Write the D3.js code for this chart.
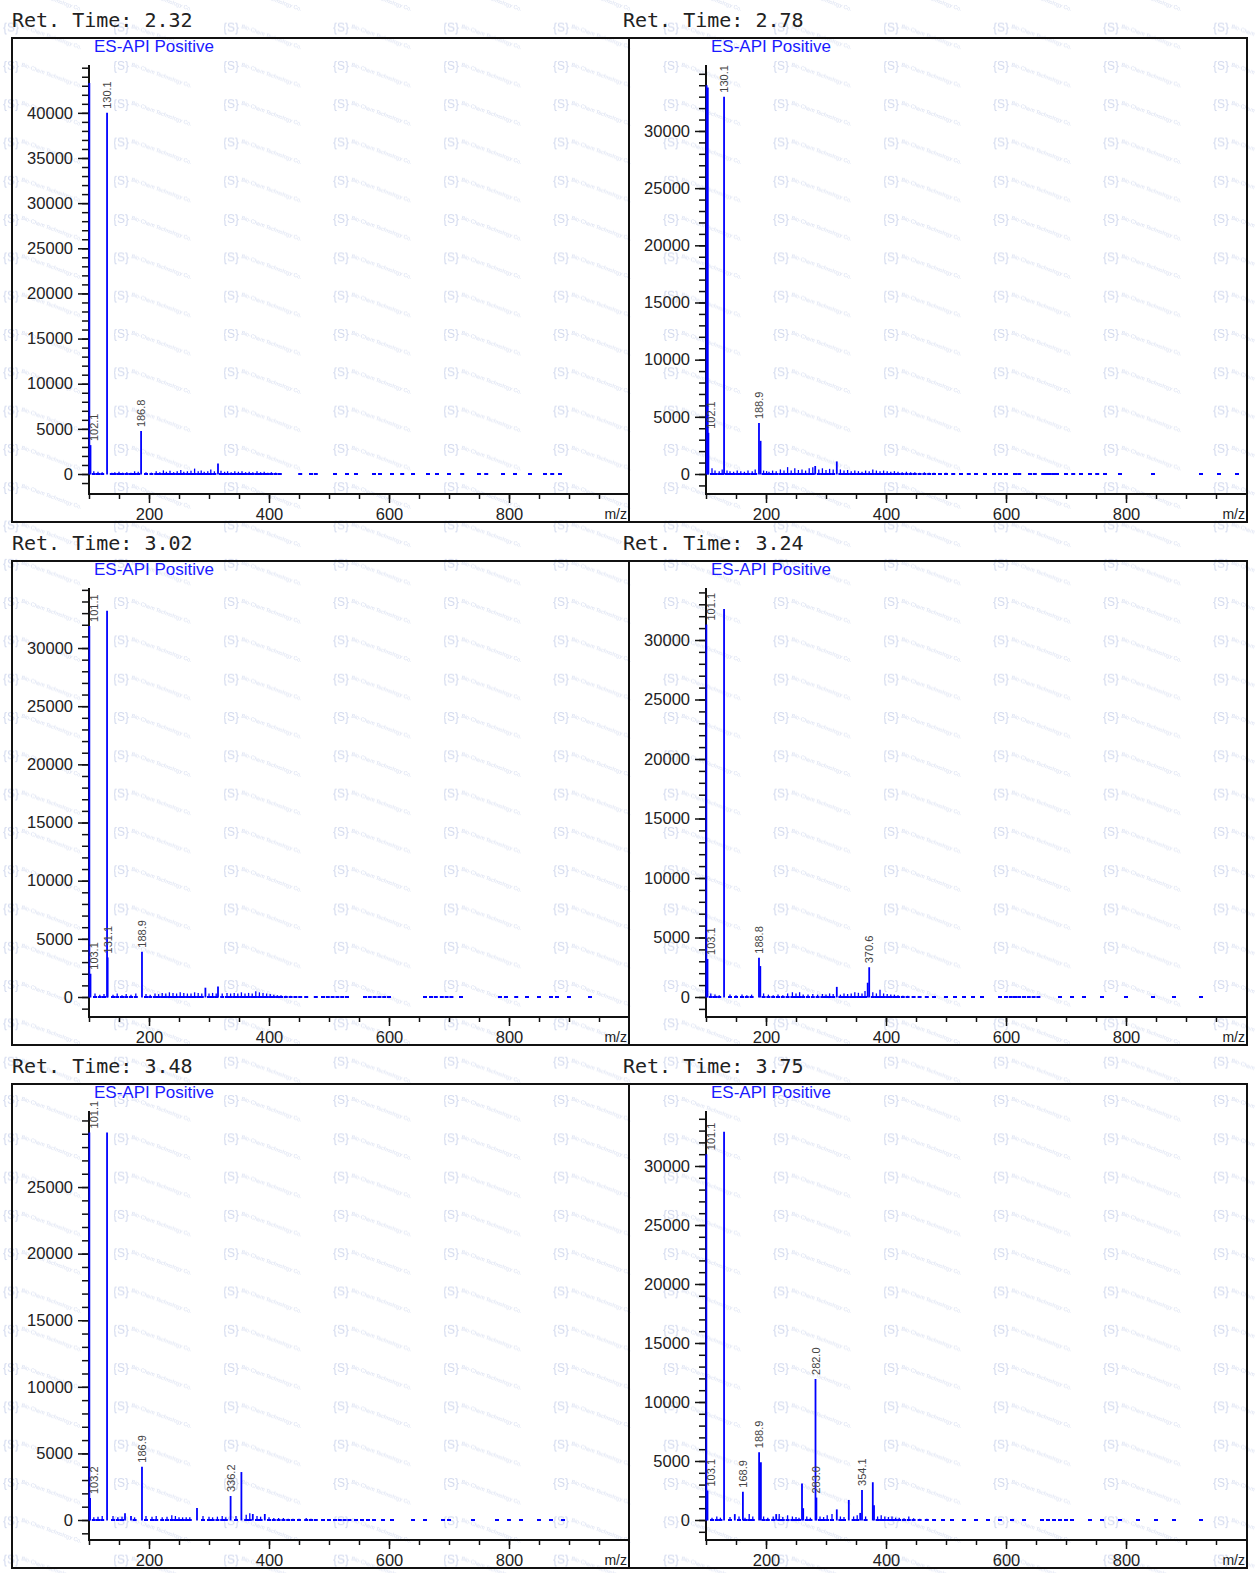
<!DOCTYPE html>
<html>
<head>
<meta charset="utf-8">
<script src="https://cdn.jsdelivr.net/npm/d3@7"></script>
<style>
  body { margin: 0; background: #fff; }
  svg { display: block; }
</style>
</head>
<body>
<div id="chart"></div>
<script>
const W = 1256, H = 1573;

// one entry per panel, row by row
const retTimes = ["2.32", "2.78", "3.02", "3.24", "3.48", "3.75"];
// value at the top end of each intensity axis
const yTops = [45300, 35770, 35160, 34370, 30710, 34660];
const mzDomain = [100, 1000];
const xTickLabels = [200, 400, 600, 800];
const yMajorStep = 5000;
const yMinorStep = 1000;

// main peaks [m/z, intensity]
const peaks232 = [[100.6, 43300], [102.5, 3200], [130.1, 40000], [186.8, 4750], [315, 1150]];
const peaks278 = [[101, 34000], [103, 33800], [104, 3600], [130.1, 33000], [188.3, 4450], [191, 2900], [318, 1100], [282, 700]];
const peaks302 = [[100.6, 31900], [102.5, 2000], [130.1, 33200], [131.1, 3400], [188.3, 3900], [315, 900], [294, 800]];
const peaks324 = [[100.6, 31300], [102.5, 3200], [130.1, 32600], [188.3, 3300], [190.5, 2600], [318, 850], [369.5, 1200], [372, 2500]];
const peaks348 = [[100.6, 29100], [101.8, 1650], [130.1, 29100], [160, 500], [170, 300], [188.3, 4000], [280, 900], [336, 1800], [354, 3600], [373, 450], [393, 450]];
const peaks375 = [[100.6, 31000], [102.5, 2500], [130.1, 32900], [148, 500], [161.5, 2400], [188.5, 5750], [191.5, 4900], [217, 500], [260, 3100], [262, 1000], [282.5, 11950], [284, 1900], [318, 900], [338, 1700], [357, 600], [360, 2550], [378, 3200], [380, 1250]];

// peak labels [m/z, intensity, text]
const labels232 = [[102.5, 3200, "102.1"], [130.1, 40000, "130.1"], [186.8, 4750, "186.8"]];
const labels278 = [[104, 3600, "102.1"], [130.1, 33000, "130.1"], [188.3, 4450, "188.9"]];
const labels302 = [[100.6, 31900, "101.1"], [102.5, 2000, "103.1"], [131.1, 3400, "131.1"], [188.3, 3900, "188.9"]];
const labels324 = [[100.6, 31300, "101.1"], [102.5, 3200, "103.1"], [188.3, 3300, "188.8"], [372, 2500, "370.6"]];
const labels348 = [[100.6, 29100, "101.1"], [101.8, 1650, "103.2"], [188.3, 4000, "186.9"], [336, 1800, "336.2"]];
const labels375 = [[100.6, 31000, "101.1"], [102.5, 2500, "103.1"], [161.5, 2400, "168.9"], [188.5, 5750, "188.9"], [282.5, 11950, "282.0"], [284, 1900, "283.0"], [360, 2550, "354.1"]];

// small signals along the baseline [m/z, intensity]
const noise232 = [[108,300],[115,250],[122,200],[138,150],[143,200],[150,250],[156,150],[163,200],[170,150],[176,300],[182,250],[195,200],[204,150],[212,300],[218,200],[224,400],[229,250],[235,350],[241,200],[247,300],[253,450],[258,250],[264,300],[270,350],[276,600],[282,300],[287,400],[292,250],[298,300],[303,500],[309,300],[320,350],[326,250],[331,300],[337,200],[343,300],[349,250],[355,300],[361,200],[367,250],[373,200],[380,300],[386,200],[392,250],[398,150],[404,200],[411,150],[418,100],[452,80],[470,60],[478,60],[510,80],[530,60],[545,60],[575,80],[585,60],[605,60],[622,80],[640,60],[665,60],[680,80],[700,60],[722,60],[750,60],[762,80],[790,60],[810,60],[835,80],[860,60],[872,60],[885,60]];
const noise278 = [[110,500],[115,300],[122,250],[127,400],[135,300],[140,250],[146,200],[152,300],[158,250],[164,200],[170,300],[177,250],[182,400],[196,300],[201,250],[205,200],[211,300],[217,250],[224,400],[230,300],[236,600],[242,300],[248,500],[254,350],[260,400],[266,300],[272,500],[278,600],[288,400],[294,500],[300,350],[306,450],[312,400],[324,400],[330,300],[336,350],[342,250],[348,300],[354,250],[360,200],[366,300],[372,250],[378,400],[384,300],[390,250],[396,300],[402,250],[408,200],[414,250],[420,200],[427,150],[434,200],[441,150],[448,150],[456,100],[464,150],[472,100],[480,100],[490,80],[500,100],[512,80],[525,60],[538,80],[550,60],[565,60],[580,60],[590,60],[600,60],[615,60],[622,60],[640,60],[648,60],[662,60],[668,60],[673,60],[679,60],[685,60],[700,60],[712,60],[725,60],[740,60],[752,60],[765,60],[790,60],[845,60],[925,60],[955,60],[985,60]];
const noise302 = [[110,300],[118,200],[125,250],[140,200],[147,300],[155,150],[162,250],[170,200],[178,300],[195,250],[202,200],[210,300],[216,250],[222,350],[228,300],[234,400],[240,350],[246,300],[252,400],[258,350],[264,300],[270,300],[276,400],[282,350],[288,300],[300,300],[306,350],[312,300],[322,300],[330,350],[336,300],[342,350],[348,300],[354,400],[360,300],[366,350],[372,300],[378,500],[384,400],[390,350],[396,300],[402,250],[408,200],[414,150],[420,150],[428,100],[436,100],[444,80],[452,80],[462,60],[478,60],[490,60],[498,60],[506,60],[514,60],[522,60],[530,60],[560,60],[568,60],[576,60],[584,60],[592,60],[600,60],[660,60],[670,60],[678,60],[688,60],[696,60],[704,60],[720,60],[785,60],[795,60],[812,60],[830,60],[850,60],[870,60],[880,60],[900,60],[935,60]];
const noise324 = [[108,300],[115,200],[122,150],[140,200],[150,150],[160,200],[168,150],[176,200],[196,300],[204,200],[212,150],[220,200],[228,150],[236,300],[244,400],[250,300],[256,400],[262,200],[270,200],[278,250],[286,200],[294,250],[300,200],[306,300],[312,250],[324,200],[330,300],[336,250],[342,300],[348,400],[354,350],[360,300],[365,500],[378,400],[384,300],[390,600],[396,300],[402,250],[408,200],[414,200],[420,150],[428,100],[436,100],[446,80],[456,60],[468,60],[480,60],[500,60],[515,60],[530,60],[545,60],[560,60],[590,60],[600,60],[608,60],[615,60],[622,60],[630,60],[638,60],[646,60],[654,60],[690,60],[710,60],[730,60],[760,60],[800,60],[845,60],[880,60],[925,60]];
const noise348 = [[108,200],[115,250],[122,300],[140,300],[148,200],[155,250],[176,200],[195,300],[205,250],[212,300],[222,200],[230,250],[238,350],[244,300],[250,200],[256,200],[262,200],[268,200],[290,300],[300,250],[306,200],[314,250],[322,300],[328,200],[345,300],[362,400],[368,500],[380,300],[386,250],[400,200],[408,150],[416,150],[424,150],[432,100],[440,100],[450,100],[462,150],[470,100],[478,80],[490,80],[500,80],[510,80],[518,60],[526,60],[534,60],[545,60],[555,60],[565,60],[575,60],[590,60],[605,60],[640,60],[660,60],[690,60],[700,60],[740,60],[780,60],[800,60],[820,60],[850,60],[870,60],[890,60]];
const noise375 = [[110,200],[118,300],[124,200],[140,250],[155,300],[165,200],[172,500],[178,300],[196,300],[203,200],[212,300],[222,500],[228,250],[236,400],[244,300],[250,250],[255,200],[268,300],[274,200],[290,300],[296,250],[302,400],[310,500],[324,300],[330,250],[346,300],[352,400],[366,300],[386,300],[392,400],[398,300],[404,250],[410,300],[416,200],[422,200],[430,150],[438,300],[446,150],[456,100],[468,100],[480,80],[495,80],[510,60],[530,60],[550,60],[570,60],[590,60],[610,60],[630,60],[660,60],[670,60],[680,60],[690,60],[700,60],[710,60],[740,60],[760,60],[790,60],[820,60],[850,60],[880,60],[925,60]];

const allPeaks = [peaks232, peaks278, peaks302, peaks324, peaks348, peaks375];
const allLabels = [labels232, labels278, labels302, labels324, labels348, labels375];
const allNoise = [noise232, noise278, noise302, noise324, noise348, noise375];

const rowTops = [38, 561, 1084];
const colEdges = [[12, 629], [629, 1247]];
const titleX = [12, 623];
const BLUE = "#0000ff";

let svg = d3.select("#chart")
    .append("svg")
    .attr("width", W)
    .attr("height", H)
    .style("font-family", "'Liberation Sans', Arial, sans-serif");

svg.append("rect").attr("width", W).attr("height", H).attr("fill", "#fff");

// faint background watermark
let pat = svg.append("defs").append("pattern")
    .attr("id", "wm")
    .attr("patternUnits", "userSpaceOnUse")
    .attr("x", 3).attr("y", 20.7)
    .attr("width", 110).attr("height", 38.3);
pat.append("text")
    .attr("x", 0).attr("y", 11)
    .style("font-size", "12px")
    .attr("fill", "#d2d9ee")
    .text("{S}");
pat.append("text")
    .attr("transform", "translate(18,7) rotate(20)")
    .style("font-size", "5.5px")
    .attr("fill", "#d5dcef")
    .text("Bio-Chem Technology Co.");
svg.append("rect").attr("width", W).attr("height", H).attr("fill", "url(#wm)");

retTimes.forEach(function(rt, i) {
    let col = i % 2, row = Math.floor(i / 2);
    let bx0 = colEdges[col][0], bx1 = colEdges[col][1], top = rowTops[row];
    let axisX = bx0 + 77, axisTop = top + 27, zeroY = top + 436, xAxisY = top + 456, bottom = top + 484;

    let x = d3.scaleLinear().domain(mzDomain).range([axisX, axisX + 540]);
    let y = d3.scaleLinear().domain([0, yTops[i]]).range([zeroY, axisTop]);

    let g = svg.append("g");

    // panel frame
    g.append("rect")
        .attr("x", bx0).attr("y", top)
        .attr("width", bx1 - bx0).attr("height", bottom - top)
        .attr("fill", "none").attr("stroke", "#111").attr("stroke-width", 2);

    // title above the frame
    svg.append("text")
        .attr("x", titleX[col]).attr("y", top - 11)
        .style("font-family", "'DejaVu Sans Mono', monospace")
        .style("font-size", "20px")
        .attr("fill", "#222")
        .text("Ret. Time: " + rt);

    g.append("text")
        .attr("x", axisX + 5).attr("y", top + 14)
        .style("font-size", "17px")
        .attr("fill", "#1a1aff")
        .text("ES-API Positive");

    // y ticks: minor every 1000, labelled every 5000 (not right at the top)
    let minor = d3.range(-3 * yMinorStep, yTops[i], yMinorStep)
        .filter(function(v) { return y(v) <= xAxisY - 4 && y(v) >= axisTop - 0.5; });
    let major = minor.filter(function(v) { return v >= 0 && v % yMajorStep === 0 && y(v) >= axisTop + 15; });

    let yMinorAxis = g.append("g").attr("transform", `translate(${axisX},0)`)
        .call(d3.axisLeft(y).tickValues(minor).tickSize(7).tickFormat(""));
    let yMajorAxis = g.append("g").attr("transform", `translate(${axisX},0)`)
        .call(d3.axisLeft(y).tickValues(major).tickSize(11).tickPadding(5).tickFormat(d3.format("d")));

    // x ticks: minor every 50, labelled every 200
    let xMinor = d3.range(mzDomain[0], mzDomain[1], 50);
    let xMinorAxis = g.append("g").attr("transform", `translate(0,${xAxisY})`)
        .call(d3.axisBottom(x).tickValues(xMinor).tickSize(5).tickFormat(""));
    let xMajorAxis = g.append("g").attr("transform", `translate(0,${xAxisY})`)
        .call(d3.axisBottom(x).tickValues(xTickLabels).tickSize(9).tickPadding(5).tickFormat(d3.format("d")));

    [yMinorAxis, yMajorAxis, xMinorAxis, xMajorAxis].forEach(function(a) {
        a.select(".domain").remove();
        a.selectAll("line").attr("stroke", "#111").attr("stroke-width", 1.5);
        a.selectAll("text")
            .style("font-family", "'Liberation Sans', Arial, sans-serif")
            .style("font-size", "16.5px")
            .attr("fill", "#222");
    });

    // axis lines
    g.append("line")
        .attr("x1", axisX).attr("x2", axisX)
        .attr("y1", axisTop).attr("y2", xAxisY)
        .attr("stroke", "#111").attr("stroke-width", 2);
    g.append("line")
        .attr("x1", axisX - 1).attr("x2", bx1)
        .attr("y1", xAxisY).attr("y2", xAxisY)
        .attr("stroke", "#111").attr("stroke-width", 2);

    g.append("text")
        .attr("x", bx1 - 2).attr("y", xAxisY + 25)
        .style("text-anchor", "end")
        .style("font-size", "14px")
        .attr("fill", "#222")
        .text("m/z");

    // baseline noise
    let nz = g.append("g");
    nz.selectAll("rect").data(allNoise[i]).enter()
        .append("rect")
        .attr("x", function(d) { return x(d[0]) - 2; })
        .attr("y", zeroY - 1)
        .attr("width", 4).attr("height", 2)
        .attr("fill", BLUE);
    nz.selectAll("line").data(allNoise[i]).enter()
        .append("line")
        .attr("x1", function(d) { return x(d[0]); })
        .attr("x2", function(d) { return x(d[0]); })
        .attr("y1", zeroY)
        .attr("y2", function(d) { return y(d[1]); })
        .attr("stroke", BLUE).attr("stroke-width", 1.3);

    // main peaks
    g.append("g").selectAll("line").data(allPeaks[i]).enter()
        .append("line")
        .attr("x1", function(d) { return x(d[0]); })
        .attr("x2", function(d) { return x(d[0]); })
        .attr("y1", zeroY + 0.5)
        .attr("y2", function(d) { return y(d[1]); })
        .attr("stroke", BLUE).attr("stroke-width", 1.8);

    // rotated peak labels, kept clear of the axis line
    g.append("g").selectAll("text").data(allLabels[i]).enter()
        .append("text")
        .attr("transform", function(d) {
            let lx = Math.max(x(d[0]) + 4, axisX + 9);
            return `translate(${lx},${y(d[1]) - 4}) rotate(-90)`;
        })
        .style("font-size", "11px")
        .attr("fill", "#444")
        .text(function(d) { return d[2]; });
});
</script>
</body>
</html>
